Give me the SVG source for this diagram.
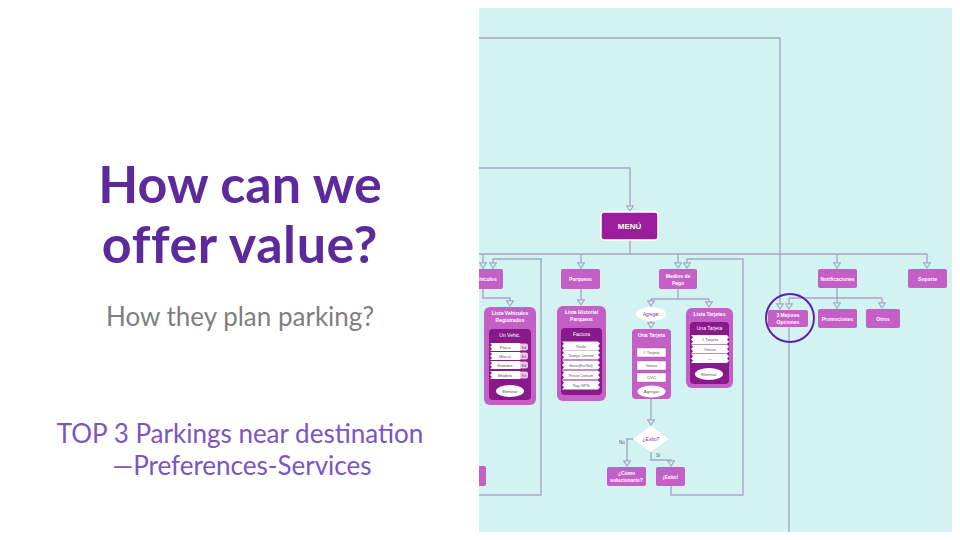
<svg xmlns="http://www.w3.org/2000/svg" width="960" height="540" viewBox="0 0 960 540">
<style>
.title{font-family:Lato,"Liberation Sans",sans-serif;font-weight:700;font-size:52px;fill:#5c2a9b;text-anchor:middle}
.t2{letter-spacing:0.6px}
.sub{font-family:Lato,"Liberation Sans",sans-serif;font-size:26px;fill:#7f7f7f;text-anchor:middle}
.note{font-family:Lato,"Liberation Sans",sans-serif;font-size:26px;fill:#7b55c4;text-anchor:middle}
.box{fill:#c45fc6}
.panel{fill:#c45fc6}
.inner{fill:#88198b}
.menu{fill:#9c1d9c;stroke:#fff;stroke-width:1.5}
.t{font-family:"Liberation Sans",sans-serif;font-weight:700;font-size:5px;fill:#fff;text-anchor:middle}
.tr{font-family:"Liberation Sans",sans-serif;font-size:4.3px;fill:#555;text-anchor:middle}
.tp{font-family:"Liberation Sans",sans-serif;font-size:5px;fill:#8a2a9a;text-anchor:middle}
.row{fill:#fff}
.ed{fill:#f3c4e6}
.conn path{fill:none;stroke:#a9a6c6;stroke-width:1.4}
.lbl{font-family:"Liberation Sans",sans-serif;font-size:4.5px;fill:#555;text-anchor:middle}
</style>
<defs>
<marker id="ahd" markerUnits="userSpaceOnUse" markerWidth="8" markerHeight="8" refX="3.5" refY="5.5" orient="0" viewBox="0 0 7 7">
<path d="M0.5,1 L6.5,1 L3.5,5.5 Z" fill="#d3f3f3" stroke="#a9a6c6" stroke-width="1"/>
</marker>
<clipPath id="clip"><rect x="479" y="8" width="473" height="524"/></clipPath>
<path id="rowS" fill="#fff" d="M0,0 h30 l2,2 l-2,2 l2,2 l-2,2 h-30 l2,-2 l-2,-2 l2,-2 z"/>
<path id="rowL" fill="#fff" d="M0,0 h36 l2,2.2 l-2,2.3 l2,2.3 l-2,2.2 h-36 l2,-2.2 l-2,-2.3 l2,-2.3 z"/>
</defs>
<rect width="960" height="540" fill="#fff"/>

<g id="left-text">
<text class="title" x="240" y="203">How can we</text>
<text class="title t2" x="240" y="263">offer value?</text>
<text class="sub" x="240" y="326">How they plan parking?</text>
<text class="note" x="240" y="443">TOP 3 Parkings near destination</text>
<text class="note" x="242" y="475">—Preferences-Services</text>
</g>

<g id="diagram" clip-path="url(#clip)">
<rect x="479" y="8" width="473" height="524" fill="#d3f3f3"/>

<g id="connectors" class="conn">
<path d="M479,38 H780 V309" style="marker-end:url(#ahd)"/>
<path d="M479,168 H630 V211" style="marker-end:url(#ahd)"/>
<path d="M630,240 V254"/>
<path d="M479,254 H927"/>
<path d="M483,254 V268" style="marker-end:url(#ahd)"/>
<path d="M581,254 V268" style="marker-end:url(#ahd)"/>
<path d="M678,254 V268" style="marker-end:url(#ahd)"/>
<path d="M837,254 V268" style="marker-end:url(#ahd)"/>
<path d="M927,254 V268" style="marker-end:url(#ahd)"/>
<path d="M479,495 H541 V259 H493 V268" style="marker-end:url(#ahd)"/>
<path d="M483,289 V298 H510 V306" style="marker-end:url(#ahd)"/>
<path d="M581,289 V305" style="marker-end:url(#ahd)"/>
<path d="M678,289 V299 M651,299 H709"/>
<path d="M651,299 V306" style="marker-end:url(#ahd)"/>
<path d="M709,299 V307" style="marker-end:url(#ahd)"/>
<path d="M651,321 V328" style="marker-end:url(#ahd)"/>
<path d="M651,399 V425" style="marker-end:url(#ahd)"/>
<path d="M633,439 H627 V466" style="marker-end:url(#ahd)"/>
<path d="M651,452 V460 H671 V466" style="marker-end:url(#ahd)"/>
<path d="M671,486 V495 H743 V259 H687 V268" style="marker-end:url(#ahd)"/>
<path d="M837,288 V298 M789,298 H882"/>
<path d="M789,298 V309" style="marker-end:url(#ahd)"/>
<path d="M837,298 V308" style="marker-end:url(#ahd)"/>
<path d="M882,298 V308" style="marker-end:url(#ahd)"/>
<path d="M789,327 V532"/>
<text class="lbl" x="622" y="444">No</text>
<text class="lbl" x="658" y="457">Si</text>
</g>

<g id="menu">
<rect class="menu" x="601" y="212" width="57" height="28" rx="3"/>
<text class="t" x="629.5" y="229" style="font-size:8px">MENÚ</text>
</g>

<g id="vehiculos">
<rect class="box" x="468" y="269" width="35" height="20" rx="2"/>
<text class="t" x="485" y="281">Vehículos</text>
</g>

<g id="parqueos">
<rect class="box" x="561" y="269" width="39" height="20" rx="2"/>
<text class="t" x="580.5" y="281">Parqueos</text>
</g>

<g id="medios-pago">
<rect class="box" x="659" y="269" width="38" height="20" rx="2"/>
<text class="t" x="678" y="278">Medios de</text>
<text class="t" x="678" y="285">Pago</text>
</g>

<g id="notificaciones">
<rect class="box" x="818" y="269" width="39" height="19" rx="2"/>
<text class="t" x="837.5" y="280.5">Notificaciones</text>
</g>

<g id="soporte">
<rect class="box" x="908" y="269" width="39" height="19" rx="2"/>
<text class="t" x="927.5" y="280.5">Soporte</text>
</g>

<g id="lista-vehiculos">
<rect class="panel" x="484" y="307" width="52" height="98" rx="6"/>
<text class="t" x="510" y="315">Lista Vehiculos</text>
<text class="t" x="510" y="321.5">Registrados</text>
<rect class="inner" x="489" y="329" width="42" height="71" rx="4"/>
<text class="t" x="510" y="337" style="font-weight:400">Un Vehic.</text>
<use href="#rowS" x="490" y="343"/>
<use href="#rowS" x="490" y="352"/>
<use href="#rowS" x="490" y="361"/>
<use href="#rowS" x="490" y="371"/>
<rect class="ed" x="520" y="343.5" width="8" height="7" rx="2"/>
<rect class="ed" x="520" y="352.5" width="8" height="7" rx="2"/>
<rect class="ed" x="520" y="361.5" width="8" height="7" rx="2"/>
<rect class="ed" x="520" y="371.5" width="8" height="7" rx="2"/>
<text class="tr" x="505" y="348.5">Placa</text>
<text class="tr" x="505" y="357.5">Marca</text>
<text class="tr" x="505" y="366.5">Nombre</text>
<text class="tr" x="505" y="376.5">Modelo</text>
<text class="tr" x="524" y="348.5" style="font-size:3.5px">Ed</text>
<text class="tr" x="524" y="357.5" style="font-size:3.5px">Ed</text>
<text class="tr" x="524" y="366.5" style="font-size:3.5px">Ed</text>
<text class="tr" x="524" y="376.5" style="font-size:3.5px">Ed</text>
<ellipse cx="510" cy="391" rx="14" ry="6" fill="#fff"/>
<text class="tr" x="510" y="392.5">Eliminar</text>
</g>

<g id="lista-historial">
<rect class="panel" x="557" y="306" width="49" height="95" rx="6"/>
<text class="t" x="581.5" y="314">Lista Historial</text>
<text class="t" x="581.5" y="320.5">Parqueos</text>
<rect class="inner" x="561" y="328" width="41" height="67" rx="4"/>
<text class="t" x="581.5" y="336" style="font-weight:400">Factura</text>
<use href="#rowL" x="562" y="341.5"/>
<use href="#rowL" x="562" y="350.5"/>
<use href="#rowL" x="562" y="360.5"/>
<use href="#rowL" x="562" y="370.5"/>
<use href="#rowL" x="562" y="380.5"/>
<text class="tr" x="581" y="347.5">Titulo</text>
<text class="tr" x="581" y="356.5" style="font-size:3.6px">Tiempo Consum</text>
<text class="tr" x="581" y="366.5" style="font-size:3.6px">Horas(Ent/Sal)</text>
<text class="tr" x="581" y="376.5" style="font-size:3.6px">Precio Consum</text>
<text class="tr" x="581" y="386.5">Tag GPS</text>
</g>

<g id="agregar">
<ellipse cx="651" cy="314" rx="15" ry="7" fill="#fff"/>
<text class="tp" x="651" y="315.8" style="font-size:4.5px">Agregar</text>
</g>

<g id="una-tarjeta">
<rect class="panel" x="632" y="329" width="39" height="70" rx="4"/>
<text class="t" x="651.5" y="337">Una Tarjeta</text>
<rect x="637" y="348" width="29" height="9" fill="#fff" stroke="#a05aa8" stroke-width="0.4"/>
<rect x="637" y="361" width="29" height="9" fill="#fff" stroke="#a05aa8" stroke-width="0.4"/>
<rect x="637" y="373" width="29" height="9" fill="#fff" stroke="#a05aa8" stroke-width="0.4"/>
<text class="tr" x="651.5" y="354">#&#160;Tarjeta</text>
<text class="tr" x="651.5" y="367">Vence</text>
<text class="tr" x="651.5" y="379">CVC</text>
<ellipse cx="651.5" cy="391.5" rx="14" ry="6" fill="#fff"/>
<text class="tr" x="651.5" y="393">Agregar</text>
</g>

<g id="lista-tarjetas">
<rect class="panel" x="686" y="308" width="47" height="80" rx="6"/>
<text class="t" x="709.5" y="316">Lista Tarjetas</text>
<rect class="inner" x="690" y="322" width="39" height="62" rx="4"/>
<text class="t" x="709.5" y="330" style="font-weight:400">Una Tarjeta</text>
<use href="#rowL" x="691" y="335"/>
<use href="#rowL" x="691" y="344.5"/>
<use href="#rowL" x="691" y="354"/>
<text class="tr" x="710" y="341">#&#160;Tarjeta</text>
<text class="tr" x="710" y="350.5">Vence</text>
<text class="tr" x="710" y="360">—</text>
<ellipse cx="709" cy="374" rx="14" ry="6" fill="#fff"/>
<text class="tr" x="709" y="375.5">Eliminar</text>
</g>

<g id="exito-decision">
<path d="M651,426 L669,439 L651,452 L633,439 Z" fill="#fff"/>
<text class="tp" x="651" y="441">¿Exito?</text>
</g>

<g id="como-solucionarlo">
<rect class="box" x="607" y="467" width="39" height="19" rx="2"/>
<text class="t" x="626.5" y="475">¿Cómo</text>
<text class="t" x="626.5" y="481.5">solucionarlo?</text>
</g>

<g id="exito">
<rect class="box" x="656" y="467" width="29" height="19" rx="2"/>
<text class="t" x="670.5" y="478.5">¡Exito!</text>
</g>

<g id="tres-mejores">
<rect class="box" x="768" y="310" width="40" height="17" rx="2"/>
<text class="t" x="788" y="317">3 Mejores</text>
<text class="t" x="788" y="323.5">Opciones</text>
</g>

<g id="promociones">
<rect class="box" x="818" y="309" width="39" height="19" rx="2"/>
<text class="t" x="837.5" y="320.5">Promociones</text>
</g>

<g id="otros">
<rect class="box" x="866" y="309" width="34" height="19" rx="2"/>
<text class="t" x="883" y="320.5">Otros</text>
</g>

<g id="bottom-left-node">
<rect class="box" x="462" y="466" width="24" height="20" rx="2"/>
</g>

<g id="highlight">
<circle cx="790" cy="318" r="24" fill="none" stroke="#5a22a8" stroke-width="2"/>
</g>
</g>
</svg>
